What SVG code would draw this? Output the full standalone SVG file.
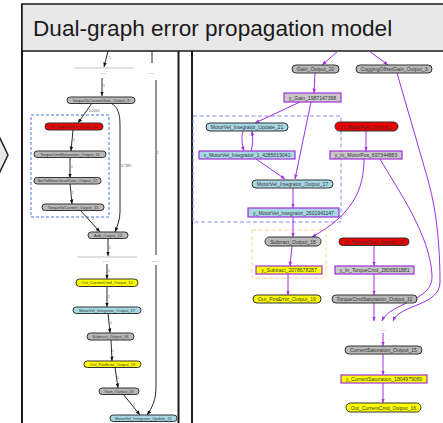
<svg xmlns="http://www.w3.org/2000/svg" width="443" height="423" viewBox="0 0 443 423">
<style>
  .frame{fill:none;stroke:#1a1a1a;stroke-width:2}
  .title{font-family:"Liberation Sans",Arial,sans-serif;font-size:22.6px;fill:#1a1a1a}
  .nl text{font-family:"Liberation Sans",Arial,sans-serif;font-size:4px;fill:#333;text-anchor:middle;dominant-baseline:central}
  .nr text{font-family:"Liberation Sans",Arial,sans-serif;font-size:5.1px;fill:#333;text-anchor:middle;dominant-baseline:central}
  .pill{stroke:#333;stroke-width:1}
  .box{stroke:#a030d8;stroke-width:1.2}
  .gray{fill:#b8b8b8}
  .red{fill:#ee0000}
  .yel{fill:#ffff00}
  .blue{fill:#a8d8e6}
  .lgray{fill:#c8c8c8}
  .ek path{fill:none;stroke:#111;stroke-width:0.9;marker-end:url(#ak)}
  .ep path{fill:none;stroke:#a030e0;stroke-width:1;marker-end:url(#ap)}
  .el{font-family:"Liberation Sans",Arial,sans-serif;font-size:3.4px;fill:#555}
  .dots{font-family:"Liberation Sans",Arial,sans-serif;font-size:6px;fill:#555;text-anchor:middle}
  .cut{stroke:#999;stroke-width:0.6}
</style>
<defs>
  <marker id="ak" viewBox="0 0 10 10" refX="10" refY="5" markerWidth="4.5" markerHeight="4.5" markerUnits="userSpaceOnUse" orient="auto">
    <path d="M0,1 L10,5 L0,9 z" fill="#111"/>
  </marker>
  <marker id="ap" viewBox="0 0 10 10" refX="10" refY="5" markerWidth="4.5" markerHeight="4.5" markerUnits="userSpaceOnUse" orient="auto">
    <path d="M0,1 L10,5 L0,9 z" fill="#a030e0"/>
  </marker>
</defs>

<rect width="443" height="423" fill="#fff"/>

<!-- side chevron -->
<polygon points="-3,132 8,155 -3,178" fill="#e8e8e8" stroke="#222" stroke-width="1.5"/>

<!-- panel frames -->
<line class="frame" x1="22" y1="4" x2="22" y2="423"/>
<line class="frame" x1="178.5" y1="51" x2="178.5" y2="423"/>
<line class="frame" x1="192" y1="51" x2="192" y2="423"/>

<!-- title bar -->
<g id="title">
  <rect x="22" y="4" width="430" height="47" fill="#e8e8e8" stroke="#1a1a1a" stroke-width="1.5"/>
  <text class="title" x="33" y="36">Dual-graph error propagation model</text>
</g>

<!-- left graph: clusters and cut marks -->
<rect x="31" y="115" width="78" height="102" fill="none" stroke="#3366dd" stroke-width="0.9" stroke-dasharray="3,2"/>
<line class="cut" x1="75" y1="68" x2="133" y2="68"/>
<line class="cut" x1="77" y1="257" x2="137" y2="257"/>
<text class="dots" x="103" y="74">....</text>
<text class="dots" x="151" y="74">....</text>
<text class="dots" x="106" y="262">....</text>
<text class="dots" x="155" y="262">....</text>

<!-- right graph: clusters -->
<rect x="193" y="116" width="148" height="106" fill="none" stroke="#7a80f0" stroke-width="0.9" stroke-dasharray="4,2.5"/>
<rect x="252" y="230" width="74" height="48" fill="none" stroke="#ffd080" stroke-width="0.9" stroke-dasharray="4,2.5"/>
<text class="dots" x="383" y="331" fill="#a030e0" style="fill:#a030e0">...</text>

<!-- connectors -->
<g id="connectors">
  <g class="ek">
    <path d="M108,51 L104,67"/>
    <path d="M102,78 L102,96"/>
    <path d="M92,103 L78,123"/>
    <path d="M73,130 L71,151"/>
    <path d="M70,157 L70,178"/>
    <path d="M70,183 L72,204"/>
    <path d="M80,210 L100,232"/>
    <path d="M111,103 C118,107 120,114 120,125 L120,212 C120,220 117,227 115,232"/>
    <path d="M108,238 L108,256"/>
    <path d="M107,264 L107,279"/>
    <path d="M107,287 L107,307"/>
    <path d="M108,313 L110,333"/>
    <path d="M111,340 L112,361"/>
    <path d="M115,367 L118,388"/>
    <path d="M123,394 L140,415"/>
    <path d="M156,265 L156,387 C156,400 152,408 147,415"/>
  </g>
  <line x1="152" y1="51" x2="152" y2="63" stroke="#111" stroke-width="0.9"/>
  <line x1="156" y1="80" x2="156" y2="255" stroke="#111" stroke-width="0.9"/>
  <text class="el" x="109" y="59">1</text>
  <text class="el" x="103" y="87">1</text>
  <text class="el" x="89" y="112">0.2615</text>
  <text class="el" x="73" y="141">1</text>
  <text class="el" x="71" y="168">1</text>
  <text class="el" x="72" y="194">1</text>
  <text class="el" x="92" y="220">1</text>
  <text class="el" x="121" y="167">0.7385</text>
  <text class="el" x="109" y="249">1</text>
  <text class="el" x="108" y="272">1</text>
  <text class="el" x="108" y="298">1</text>
  <text class="el" x="110" y="324">1</text>
  <text class="el" x="112" y="352">1</text>
  <text class="el" x="117" y="379">1</text>
  <text class="el" x="133" y="406">1</text>
  <text class="el" x="157" y="154">1</text>

  <g class="ep">
    <path d="M338,51 L322,65"/>
    <path d="M369,51 L388,65"/>
    <path d="M315,73 L314,93"/>
    <path d="M300,102 L255,123"/>
    <path d="M311,102 L295,179"/>
    <path d="M243,131 C241,138 242,145 244,151"/>
    <path d="M251,151 C253,145 253,138 252,131"/>
    <path d="M256,159 L285,179"/>
    <path d="M293,188 L293,208"/>
    <path d="M293,217 L293,237"/>
    <path d="M364,159 C364,190 352,215 312,237"/>
    <path d="M380,159 C398,190 430,235 432,275 C434,302 390,302 382,321"/>
    <path d="M397,73 L428,180 C438,215 440,255 440,282 C440,306 400,304 393,321"/>
    <path d="M366,131 L366,151"/>
    <path d="M292,246 L290,266"/>
    <path d="M288,274 L288,295"/>
    <path d="M374,245 L374,266"/>
    <path d="M374,274 L374,295"/>
    <path d="M374,303 L374,321"/>
    <path d="M383,333 L383,346"/>
    <path d="M383,354 L383,375"/>
    <path d="M383,383 L383,403"/>
  </g>
</g>

<!-- left graph nodes -->
<g class="nl">
  <g id="l-torque-to-current-gain"><rect class="pill gray" x="67" y="97" width="68" height="6.5" rx="3.2"/><text x="101" y="100.3">TorqueToCurrentGain_Output_9</text></g>
  <g id="l-in-torque-cmd"><rect class="pill red" x="45" y="123" width="58" height="7" rx="3.5"/><text x="74" y="126.5">In_TorqueCmd_Output_10</text></g>
  <g id="l-torque-cmd-sat"><rect class="pill gray" x="34" y="151" width="72" height="6.5" rx="3.2"/><text x="70" y="154.3">TorqueCmdSaturation_Output_11</text></g>
  <g id="l-bat-to-motor"><rect class="pill gray" x="34" y="177.5" width="67" height="6.5" rx="3.2"/><text x="67.5" y="180.8">BatToMotorGearRatio_Output_12</text></g>
  <g id="l-torque-to-current"><rect class="pill gray" x="42" y="204" width="62" height="6.5" rx="3.2"/><text x="73" y="207.3">TorqueToCurrent_Output_13</text></g>
  <g id="l-add"><rect class="pill gray" x="88" y="232" width="40" height="6.5" rx="3.2"/><text x="108" y="235.3">Add_Output_14</text></g>
  <g id="l-out-current-cmd"><rect class="pill yel" x="76" y="279" width="62" height="7.5" rx="3.7"/><text x="107" y="282.8">Out_CurrentCmd_Output_15</text></g>
  <g id="l-motorvel-output"><rect class="pill blue" x="73" y="307" width="68" height="6.5" rx="3.2"/><text x="107" y="310.3">MotorVel_Integrator_Output_17</text></g>
  <g id="l-subtract"><rect class="pill gray" x="87" y="333" width="47" height="7" rx="3.5"/><text x="110.5" y="336.5">Subtract_Output_18</text></g>
  <g id="l-out-pos-error"><rect class="pill yel" x="84" y="361" width="57" height="6.5" rx="3.2"/><text x="112.5" y="364.3">Out_PosError_Output_19</text></g>
  <g id="l-gain"><rect class="pill gray" x="99" y="388" width="40" height="6.5" rx="3.2"/><text x="119" y="391.3">Gain_Output_20</text></g>
  <g id="l-motorvel-update"><rect class="pill blue" x="110" y="415" width="67" height="6.5" rx="3.2"/><text x="143.5" y="418.3">MotorVel_Integrator_Update_21</text></g>
</g>

<!-- right graph nodes -->
<g class="nr">
  <g id="r-gain"><rect class="pill gray" x="292" y="65" width="47" height="8" rx="4"/><text x="315.5" y="69">Gain_Output_20</text></g>
  <g id="r-cogging"><rect class="pill gray" x="356" y="65" width="76" height="8" rx="4"/><text x="394" y="69">CoggingOffsetGain_Output_3</text></g>
  <g id="r-y-gain"><rect class="box lgray" x="284" y="93" width="57" height="9"/><text x="312.5" y="97.5">y_Gain_1987147398</text></g>
  <g id="r-motorvel-update"><rect class="pill blue" x="206" y="123" width="82" height="8" rx="4"/><text x="247" y="127">MotorVel_Integrator_Update_21</text></g>
  <g id="r-in-motorpos"><rect class="pill red" x="335" y="122" width="63" height="9" rx="4.5"/><text x="366.5" y="126.5">In_MotorPos_Output_1</text></g>
  <g id="r-x-motorvel"><rect class="box blue" x="199" y="151" width="96" height="8"/><text x="247" y="155">x_MotorVel_Integrator_1_4285019041</text></g>
  <g id="r-y-in-motorpos"><rect class="box lgray" x="330" y="151" width="72" height="8"/><text x="366" y="155">y_In_MotorPos_697344883</text></g>
  <g id="r-motorvel-output"><rect class="pill blue" x="252" y="180" width="81" height="8" rx="4"/><text x="292.5" y="184">MotorVel_Integrator_Output_17</text></g>
  <g id="r-y-motorvel"><rect class="box blue" x="248" y="208" width="91" height="9"/><text x="293.5" y="212.5">y_MotorVel_Integrator_2601941147</text></g>
  <g id="r-subtract"><rect class="pill gray" x="265" y="237" width="56" height="9" rx="4.5"/><text x="293" y="241.5">Subtract_Output_18</text></g>
  <g id="r-in-torque-cmd"><rect class="pill red" x="339" y="238" width="70" height="7.5" rx="3.7"/><text x="374" y="241.8">In_TorqueCmd_Output_10</text></g>
  <g id="r-y-subtract"><rect class="box yel" x="256" y="266" width="66" height="8"/><text x="289" y="270">y_Subtract_2078678287</text></g>
  <g id="r-y-in-torque-cmd"><rect class="box lgray" x="335" y="266" width="79" height="8"/><text x="374.5" y="270">y_In_TorqueCmd_2806591881</text></g>
  <g id="r-out-pos-error"><rect class="pill yel" x="253" y="295" width="68" height="8" rx="4"/><text x="287" y="299">Out_PosError_Output_19</text></g>
  <g id="r-torque-cmd-sat"><rect class="pill gray" x="332" y="295" width="85" height="8" rx="4"/><text x="374.5" y="299">TorqueCmdSaturation_Output_11</text></g>
  <g id="r-current-sat"><rect class="pill gray" x="345" y="346" width="77" height="8" rx="4"/><text x="383.5" y="350">CurrentSaturation_Output_15</text></g>
  <g id="r-y-current-sat"><rect class="box yel" x="341" y="375" width="86" height="8"/><text x="384" y="379">y_CurrentSaturation_1804979080</text></g>
  <g id="r-out-current-cmd"><rect class="pill yel" x="346" y="403" width="75" height="9" rx="4.5"/><text x="383.5" y="407.5">Out_CurrentCmd_Output_16</text></g>
</g>
</svg>
